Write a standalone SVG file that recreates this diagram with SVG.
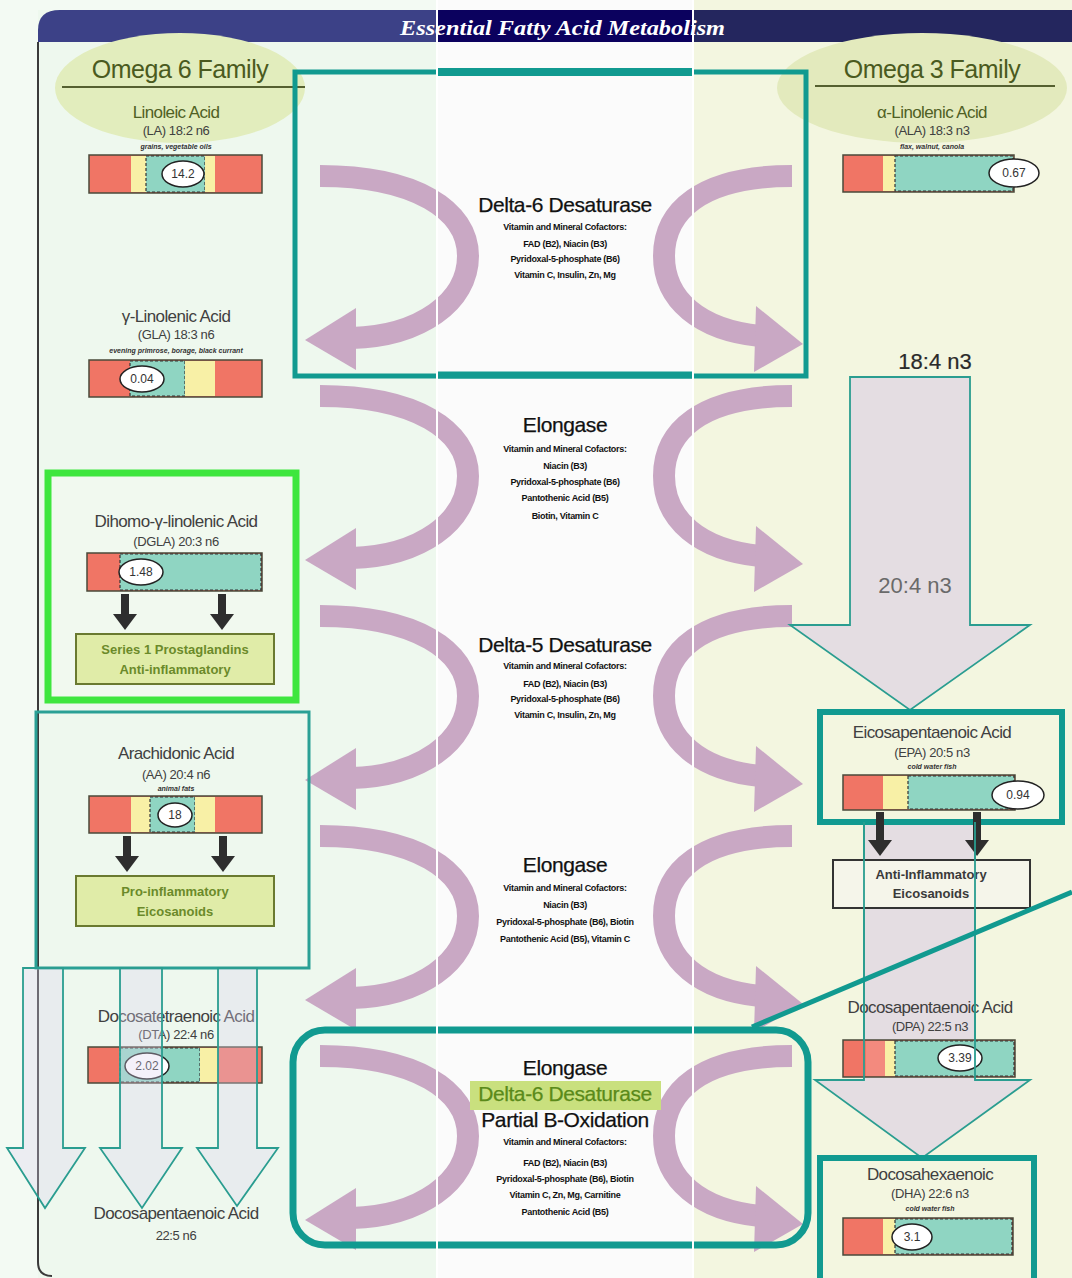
<svg xmlns="http://www.w3.org/2000/svg" xmlns:xlink="http://www.w3.org/1999/xlink" width="1072" height="1278" viewBox="0 0 1072 1278">
<style>
text{font-family:"Liberation Sans",Arial,sans-serif;text-anchor:middle}
.fam{font-size:25px;fill:#4a5a20;letter-spacing:-0.5px}
.ttl{font-size:17px;fill:#404040;letter-spacing:-0.6px}
.olv{fill:#4f6024}
.sub{font-size:13px;fill:#404040;letter-spacing:-0.4px}
.src{font-size:7px;font-style:italic;font-weight:bold;fill:#333}
.enz{font-size:21px;fill:#111;letter-spacing:-0.4px;stroke:#111;stroke-width:0.25}
.cof{font-size:9px;font-weight:bold;fill:#111;letter-spacing:-0.3px}
.val{font-size:12px;fill:#333}
.big{font-size:22px;fill:#2a2a2a}
.bar{fill:#f07565;stroke:#4a4a3a;stroke-width:1.5}
.yel{fill:#f8f0a6}
.tea{fill:#8fd5c2;stroke:#333;stroke-width:1.2;stroke-dasharray:3 2}
.ova{fill:#fff;stroke:#222;stroke-width:1.5}
.teal{fill:none;stroke:#119a90}
.lav{fill:#dcd2ee;fill-opacity:0.32;stroke:#2a9d90;stroke-width:1.8}
.gry{fill:#e4dde2;stroke:#2a9d90;stroke-width:1.8}
.tln{stroke:#2a9d90;stroke-width:1.8}
.arc{fill:none;stroke:#c9a8c4;stroke-width:22}
.arh{fill:#c9a8c4}
.dk{fill:#2e2e2e}
.ebox{fill:#e0eca8;stroke:#6a7a30;stroke-width:2}
.etx{font-size:13px;font-weight:bold;fill:#6b8a2a}
</style>
<defs>
<g id="arcL"><path class="arc" d="M320,176 C415,176 468,210 468,256 C468,302 420,336 352,338"/><polygon class="arh" points="356,308 305,340 356,370"/></g>
<g id="arcR"><path class="arc" d="M792,176 C700,176 664,212 664,256 C664,300 700,330 760,336"/><polygon class="arh" points="756,306 803,344 754,372"/></g>
</defs>

<g id="background">
<rect x="0" y="0" width="1072" height="1278" fill="#f3faf3"/>
<rect x="38" y="10" width="399" height="1268" fill="#eef8ee"/>
<rect x="437" y="0" width="256" height="1278" fill="#fbfbfb"/>
<rect x="693" y="0" width="379" height="1278" fill="#f3f6e0"/>
<path d="M38,42 L38,1262 Q38,1276 52,1276" fill="none" stroke="#3a3a3a" stroke-width="2"/>
</g>

<g id="header">
<path d="M38,42 L38,30 Q38,10 60,10 L437,10 L437,42 Z" fill="#3c4187"/>
<rect x="437" y="10" width="256" height="32" fill="#0b015e"/>
<rect x="693" y="10" width="379" height="32" fill="#24265e"/>
<text x="400" y="35" style="font-family:'Liberation Serif','Times New Roman',serif;font-size:20px;font-style:italic;font-weight:bold;fill:#fff;text-anchor:start" textLength="325" lengthAdjust="spacingAndGlyphs">Essential Fatty Acid Metabolism</text>
</g>

<g id="omega6-family">
<ellipse cx="180" cy="88" rx="125" ry="55" fill="#e2edbd"/>
<text class="fam" x="180" y="78">Omega 6 Family</text>
<line x1="62" y1="87" x2="305" y2="87" stroke="#556030" stroke-width="2"/>
</g>
<g id="omega3-family">
<ellipse cx="922" cy="88" rx="145" ry="55" fill="#e3eabd"/>
<text class="fam" x="932" y="78">Omega 3 Family</text>
<line x1="815" y1="86" x2="1055" y2="86" stroke="#556030" stroke-width="2"/>
</g>

<g id="connectors">
<use xlink:href="#arcL"/><use xlink:href="#arcL" y="220"/><use xlink:href="#arcL" y="440"/><use xlink:href="#arcL" y="660"/><use xlink:href="#arcL" y="880"/>
<use xlink:href="#arcR"/><use xlink:href="#arcR" y="220"/><use xlink:href="#arcR" y="440"/><use xlink:href="#arcR" y="660"/><use xlink:href="#arcR" y="880"/>
<polygon class="gry" points="850,377 970,377 970,625 1030,625 910,710 790,625 850,625"/>
<polygon class="gry" points="864,822 975,822 975,1080 1030,1080 922,1158 815,1080 864,1080"/>
</g>

<g id="la">
<text class="ttl olv" x="176" y="118">Linoleic Acid</text>
<text class="sub olv" x="176" y="135">(LA) 18:2 n6</text>
<text class="src" x="176" y="149">grains, vegetable oils</text>
<rect class="bar" x="89" y="155" width="173" height="38"/>
<rect class="yel" x="131" y="156" width="15" height="36"/>
<rect class="tea" x="146" y="156" width="59" height="36"/>
<rect class="yel" x="205" y="156" width="10" height="36"/>
<ellipse class="ova" cx="183" cy="174" rx="21" ry="13"/><text class="val" x="183" y="178">14.2</text>
</g>

<g id="gla">
<text class="ttl" x="176" y="322">γ-Linolenic Acid</text>
<text class="sub" x="176" y="339">(GLA) 18:3 n6</text>
<text class="src" x="176" y="353">evening primrose, borage, black currant</text>
<rect class="bar" x="89" y="360" width="173" height="37"/>
<rect class="tea" x="130" y="361" width="55" height="35"/>
<rect class="yel" x="185" y="361" width="30" height="35"/>
<ellipse class="ova" cx="142" cy="379" rx="22" ry="13"/><text class="val" x="142" y="383">0.04</text>
</g>

<g id="dgla">
<rect x="48" y="473" width="248" height="227" fill="#f1f9ef" stroke="#3ee63e" stroke-width="7"/>
<text class="ttl" x="176" y="527">Dihomo-γ-linolenic Acid</text>
<text class="sub" x="176" y="546">(DGLA) 20:3 n6</text>
<rect class="bar" x="87" y="553" width="175" height="38"/>
<rect class="tea" x="120" y="554" width="141" height="36"/>
<ellipse class="ova" cx="141" cy="572" rx="22" ry="13"/><text class="val" x="141" y="576">1.48</text>
<rect class="dk" x="121" y="594" width="8" height="22"/><polygon class="dk" points="113,614 137,614 125,630"/>
<rect class="dk" x="218" y="594" width="8" height="22"/><polygon class="dk" points="210,614 234,614 222,630"/>
<rect class="ebox" x="76" y="634" width="198" height="50"/>
<text class="etx" x="175" y="654">Series 1 Prostaglandins</text>
<text class="etx" x="175" y="674">Anti-inflammatory</text>
</g>

<g id="aa">
<rect x="36" y="712" width="273" height="256" fill="none" stroke="#2aa095" stroke-width="3"/>
<text class="ttl" x="176" y="759">Arachidonic Acid</text>
<text class="sub" x="176" y="779">(AA) 20:4 n6</text>
<text class="src" x="176" y="791">animal fats</text>
<rect class="bar" x="89" y="796" width="173" height="37"/>
<rect class="yel" x="131" y="797" width="19" height="35"/>
<rect class="tea" x="150" y="797" width="45" height="35"/>
<rect class="yel" x="195" y="797" width="20" height="35"/>
<ellipse class="ova" cx="175" cy="815" rx="17" ry="12"/><text class="val" x="175" y="819">18</text>
<rect class="dk" x="123" y="836" width="8" height="22"/><polygon class="dk" points="115,856 139,856 127,872"/>
<rect class="dk" x="219" y="836" width="8" height="22"/><polygon class="dk" points="211,856 235,856 223,872"/>
<rect class="ebox" x="76" y="876" width="198" height="50"/>
<text class="etx" x="175" y="896">Pro-inflammatory</text>
<text class="etx" x="175" y="916">Eicosanoids</text>
</g>

<g id="dta">
<text class="ttl" x="176" y="1022">Docosatetraenoic Acid</text>
<text class="sub" x="176" y="1039">(DTA) 22:4 n6</text>
<rect class="bar" x="88" y="1047" width="174" height="36"/>
<rect class="tea" x="120" y="1048" width="80" height="34"/>
<rect class="yel" x="200" y="1048" width="18" height="34"/>
<ellipse class="ova" cx="147" cy="1066" rx="22" ry="13"/><text class="val" x="147" y="1070">2.02</text>
</g>

<g id="dpa-n6">
<text class="ttl" x="176" y="1219">Docosapentaenoic Acid</text>
<text class="sub" x="176" y="1240">22:5 n6</text>
</g>

<g id="n6-arrows">
<polygon class="lav" points="23,968 63,968 63,1148 85,1148 45,1208 7,1148 23,1148"/>
<polygon class="lav" points="120,968 162,968 162,1148 182,1148 142,1208 100,1148 120,1148"/>
<polygon class="lav" points="218,968 257,968 257,1148 278,1148 237,1206 197,1148 218,1148"/>
</g>

<g id="ala">
<text class="ttl olv" x="932" y="118">α-Linolenic Acid</text>
<text class="sub olv" x="932" y="135">(ALA) 18:3 n3</text>
<text class="src" x="932" y="149">flax, walnut, canola</text>
<rect class="bar" x="843" y="155" width="171" height="37"/>
<rect class="yel" x="883" y="156" width="12" height="35"/>
<rect class="tea" x="895" y="156" width="118" height="35"/>
<ellipse class="ova" cx="1014" cy="173" rx="25" ry="14"/><text class="val" x="1014" y="177">0.67</text>
</g>

<g id="sda"><text class="big" x="935" y="369" style="stroke:#2a2a2a;stroke-width:0.2">18:4 n3</text></g>
<g id="eta"><text class="big" x="915" y="593" style="fill:#6a6a6a">20:4 n3</text></g>

<g id="epa">
<rect x="820" y="712" width="242" height="110" fill="#f3f6e0" stroke="#119a90" stroke-width="6"/>
<text class="ttl" x="932" y="738">Eicosapentaenoic Acid</text>
<text class="sub" x="932" y="757">(EPA) 20:5 n3</text>
<text class="src" x="932" y="769">cold water fish</text>
<rect class="bar" x="843" y="775" width="172" height="35"/>
<rect class="yel" x="883" y="776" width="25" height="33"/>
<rect class="tea" x="908" y="776" width="106" height="33"/>
<ellipse class="ova" cx="1018" cy="795" rx="26" ry="14"/><text class="val" x="1018" y="799">0.94</text>
</g>

<g id="anti-eico">
<rect class="dk" x="876" y="812" width="8" height="30"/><polygon class="dk" points="868,840 892,840 880,856"/>
<rect class="dk" x="973" y="812" width="8" height="30"/><polygon class="dk" points="965,840 989,840 977,856"/>
<rect x="833" y="860" width="197" height="48" fill="#f5f5ea" stroke="#333" stroke-width="2"/>
<text class="etx" x="931" y="879" style="fill:#3a3a3a">Anti-Inflammatory</text>
<text class="etx" x="931" y="898" style="fill:#3a3a3a">Eicosanoids</text>
</g>

<g id="dpa-n3">
<text class="ttl" x="930" y="1013">Docosapentaenoic Acid</text>
<text class="sub" x="930" y="1031">(DPA) 22:5 n3</text>
<rect class="bar" x="843" y="1040" width="172" height="37"/>
<rect x="866" y="1041" width="19" height="35" fill="#f38a7e"/>
<rect class="yel" x="885" y="1041" width="10" height="35"/>
<rect class="tea" x="895" y="1041" width="119" height="35"/>
<ellipse class="ova" cx="960" cy="1058" rx="22" ry="13"/><text class="val" x="960" y="1062">3.39</text>
</g>

<g id="n3-arrow-lines">
<line class="tln" x1="864" y1="822" x2="864" y2="1080"/>
<line class="tln" x1="975" y1="822" x2="975" y2="1080"/>
</g>

<g id="dha">
<rect x="820" y="1158" width="214" height="130" fill="#f3f6e0" stroke="#119a90" stroke-width="6"/>
<text class="ttl" x="930" y="1180">Docosahexaenoic</text>
<text class="sub" x="930" y="1198">(DHA) 22:6 n3</text>
<text class="src" x="930" y="1211">cold water fish</text>
<rect class="bar" x="843" y="1218" width="170" height="37"/>
<rect class="yel" x="883" y="1219" width="12" height="35"/>
<rect class="tea" x="895" y="1219" width="117" height="35"/>
<ellipse class="ova" cx="912" cy="1237" rx="20" ry="13"/><text class="val" x="912" y="1241">3.1</text>
</g>

<g id="delta6">
<text class="enz" x="565" y="212">Delta-6 Desaturase</text>
<text class="cof" x="565" y="230">Vitamin and Mineral Cofactors:</text>
<text class="cof" x="565" y="247">FAD (B2), Niacin (B3)</text>
<text class="cof" x="565" y="262">Pyridoxal-5-phosphate (B6)</text>
<text class="cof" x="565" y="278">Vitamin C, Insulin, Zn, Mg</text>
<rect class="teal" x="295" y="72" width="511" height="304" stroke-width="5"/>
<line x1="437" y1="72" x2="693" y2="72" stroke="#119a90" stroke-width="8"/>
<line x1="437" y1="375" x2="693" y2="375" stroke="#119a90" stroke-width="7"/>
</g>

<g id="elongase1">
<text class="enz" x="565" y="432">Elongase</text>
<text class="cof" x="565" y="452">Vitamin and Mineral Cofactors:</text>
<text class="cof" x="565" y="469">Niacin (B3)</text>
<text class="cof" x="565" y="485">Pyridoxal-5-phosphate (B6)</text>
<text class="cof" x="565" y="501">Pantothenic Acid (B5)</text>
<text class="cof" x="565" y="519">Biotin, Vitamin C</text>
</g>

<g id="delta5">
<text class="enz" x="565" y="652">Delta-5 Desaturase</text>
<text class="cof" x="565" y="669">Vitamin and Mineral Cofactors:</text>
<text class="cof" x="565" y="687">FAD (B2), Niacin (B3)</text>
<text class="cof" x="565" y="702">Pyridoxal-5-phosphate (B6)</text>
<text class="cof" x="565" y="718">Vitamin C, Insulin, Zn, Mg</text>
</g>

<g id="elongase2">
<text class="enz" x="565" y="872">Elongase</text>
<text class="cof" x="565" y="891">Vitamin and Mineral Cofactors:</text>
<text class="cof" x="565" y="908">Niacin (B3)</text>
<text class="cof" x="565" y="925">Pyridoxal-5-phosphate (B6), Biotin</text>
<text class="cof" x="565" y="942">Pantothenic Acid (B5), Vitamin C</text>
</g>

<g id="elongase-delta6-boxidation">
<text class="enz" x="565" y="1075">Elongase</text>
<text class="enz" x="565" y="1127">Partial B-Oxidation</text>
<rect x="470" y="1081" width="191" height="29" fill="#c9e07e"/>
<text class="enz" x="565" y="1101" style="fill:#5a8a1a;stroke:#5a8a1a">Delta-6 Desaturase</text>
<text class="cof" x="565" y="1145">Vitamin and Mineral Cofactors:</text>
<text class="cof" x="565" y="1166">FAD (B2), Niacin (B3)</text>
<text class="cof" x="565" y="1182">Pyridoxal-5-phosphate (B6), Biotin</text>
<text class="cof" x="565" y="1198">Vitamin C, Zn, Mg, Carnitine</text>
<text class="cof" x="565" y="1215">Pantothenic Acid (B5)</text>
<rect class="teal" x="293" y="1030" width="515" height="215" rx="32" stroke-width="7"/>
<line x1="752" y1="1027" x2="1072" y2="892" stroke="#119a90" stroke-width="5"/>
</g>

<g id="column-seams">
<line x1="437" y1="0" x2="437" y2="1278" stroke="#fff" stroke-width="2"/>
<line x1="693" y1="0" x2="693" y2="1278" stroke="#fff" stroke-width="2"/>
</g>
</svg>
